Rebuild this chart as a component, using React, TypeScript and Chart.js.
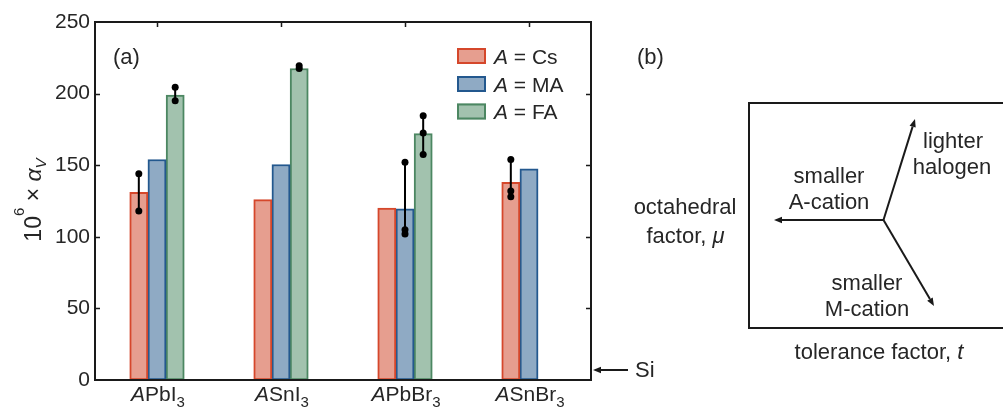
import React, { useEffect, useRef } from 'react';
import { Chart, registerables } from 'chart.js';

Chart.register(...registerables);

// ---------------- data ----------------
const categories = ['APbI3', 'ASnI3', 'APbBr3', 'ASnBr3'];
const categoryBody = ['PbI', 'SnI', 'PbBr', 'SnBr'];
const categorySub = ['3', '3', '3', '3'];

const seriesNames = ['Cs', 'MA', 'FA'];
const csValues = [131, 126, 120, 138];
const maValues = [154, 150.5, 119.5, 147.5];
const faValues: (number | null)[] = [199, 217.5, 172, null];

// individual measurements shown as black dots joined by a line
const csPoints = [[144, 118], [], [], [154, 132, 128]];
const maPoints = [[], [], [152, 105, 102], []];
const faPoints = [[204.5, 195], [219.5, 217.5], [184.5, 172.5, 157.5], []];

const yMin = 0;
const yMax = 250;
const yStep = 50;
const siValue = 7;

// ---------------- styles ----------------
const FONT = '"Liberation Sans", Arial, Helvetica, sans-serif';
const TEXT = '#262626';
const AXIS = '#1a1a1a';
const fills = ['#e69e8f', '#8faac4', '#a2c2ae'];
const borders = ['#d5472b', '#23588e', '#4c8762'];
const GROUP_FRAC = 0.44; // fraction of a category occupied by a group of 3 bars
const SLOT = GROUP_FRAC / 3;

type Part = { t: string; it?: boolean; sub?: boolean; sup?: boolean; size?: number };

function partFont(p: Part, size: number) {
  const s = p.size ?? (p.sub || p.sup ? Math.round(size * 0.68) : size);
  return `${p.it ? 'italic ' : ''}${s}px ${FONT}`;
}

function richWidth(ctx: CanvasRenderingContext2D, parts: Part[], size: number) {
  let w = 0;
  for (const p of parts) {
    ctx.font = partFont(p, size);
    w += ctx.measureText(p.t).width;
  }
  return w;
}

function drawRich(
  ctx: CanvasRenderingContext2D,
  parts: Part[],
  x: number,
  baseline: number,
  size: number,
  align: 'left' | 'center',
  subDrop = 0.3,
  supRise = 0.45
) {
  ctx.textBaseline = 'alphabetic';
  ctx.textAlign = 'left';
  const w = richWidth(ctx, parts, size);
  let cx = align === 'center' ? x - w / 2 : x;
  for (const p of parts) {
    ctx.font = partFont(p, size);
    const dy = p.sub ? size * subDrop : p.sup ? -size * supRise : 0;
    ctx.fillText(p.t, cx, baseline + dy);
    cx += ctx.measureText(p.t).width;
  }
}

function arrow(ctx: CanvasRenderingContext2D, x0: number, y0: number, x1: number, y1: number) {
  const ang = Math.atan2(y1 - y0, x1 - x0);
  const len = 8;
  const hw = 3.2;
  const bx = x1 - len * Math.cos(ang);
  const by = y1 - len * Math.sin(ang);
  ctx.beginPath();
  ctx.moveTo(x0, y0);
  ctx.lineTo(bx, by);
  ctx.stroke();
  ctx.beginPath();
  ctx.moveTo(x1, y1);
  ctx.lineTo(bx + hw * Math.sin(ang), by - hw * Math.cos(ang));
  ctx.lineTo(bx - hw * Math.sin(ang), by + hw * Math.cos(ang));
  ctx.closePath();
  ctx.fill();
}

const decorPlugin = {
  id: 'decor',
  beforeDatasetsDraw(chart: any) {
    const ctx: CanvasRenderingContext2D = chart.ctx;
    const { left, right, top, bottom } = chart.chartArea;
    const ys = chart.scales.y;
    const xs = chart.scales.x;
    ctx.save();
    ctx.strokeStyle = AXIS;
    ctx.lineWidth = 1.5;
    const tl = 5;
    ys.ticks.forEach((t: any) => {
      if (t.value <= yMin || t.value >= yMax) return;
      const py = Math.round(ys.getPixelForValue(t.value)) + 0.5;
      ctx.beginPath();
      ctx.moveTo(left, py);
      ctx.lineTo(left + tl, py);
      ctx.moveTo(right, py);
      ctx.lineTo(right - tl, py);
      ctx.stroke();
    });
    categories.forEach((_, i) => {
      const px = Math.round(xs.getPixelForValue(i)) + 0.5;
      ctx.beginPath();
      ctx.moveTo(px, top);
      ctx.lineTo(px, top + tl);
      ctx.moveTo(px, bottom);
      ctx.lineTo(px, bottom - tl);
      ctx.stroke();
    });
    ctx.restore();
  },
  afterDatasetsDraw(chart: any) {
    const ctx: CanvasRenderingContext2D = chart.ctx;
    const { left, right, top, bottom } = chart.chartArea;
    const ys = chart.scales.y;
    const xs = chart.scales.x;
    ctx.save();

    // axes box
    ctx.strokeStyle = AXIS;
    ctx.lineWidth = 2;
    ctx.strokeRect(left, top, right - left, bottom - top);

    ctx.fillStyle = TEXT;
    // category labels
    categories.forEach((_, i) => {
      const px = xs.getPixelForValue(i);
      drawRich(
        ctx,
        [{ t: 'A', it: true }, { t: categoryBody[i] }, { t: categorySub[i], sub: true, size: 15 }],
        px + 1,
        401,
        21,
        'center',
        0.3
      );
    });

    // y title
    ctx.save();
    ctx.translate(41, (top + bottom) / 2 - 1);
    ctx.rotate(-Math.PI / 2);
    drawRich(
      ctx,
      [
        { t: '10' },
        { t: '6', sup: true, size: 15 },
        { t: ' × ' },
        { t: 'α', it: true },
        { t: 'V', it: true, sub: true, size: 15 },
      ],
      0,
      0,
      23,
      'center',
      0.2,
      0.72
    );
    ctx.restore();

    // panel label (a)
    ctx.font = `22px ${FONT}`;
    ctx.textBaseline = 'middle';
    ctx.textAlign = 'left';
    ctx.fillText('(a)', 113, 58);

    // legend
    const legendY = [56, 84, 111.5];
    seriesNames.forEach((name, k) => {
      const cy = legendY[k];
      ctx.fillStyle = fills[k];
      ctx.fillRect(457, cy - 8, 29, 16);
      ctx.strokeStyle = borders[k];
      ctx.lineWidth = 2;
      ctx.strokeRect(458, cy - 7, 27, 14);
      ctx.fillStyle = TEXT;
      drawRich(ctx, [{ t: 'A', it: true }, { t: ' = ' + name }], 494, cy + 7.5, 21, 'left');
    });

    // Si marker
    const sy = ys.getPixelForValue(siValue);
    ctx.strokeStyle = AXIS;
    ctx.fillStyle = AXIS;
    ctx.lineWidth = 2;
    arrow(ctx, 628, sy, 593, sy);
    ctx.fillStyle = TEXT;
    ctx.font = `22px ${FONT}`;
    ctx.textBaseline = 'middle';
    ctx.fillText('Si', 635, sy + 1);

    // ---------------- panel (b) ----------------
    ctx.fillText('(b)', 637, 58);
    ctx.strokeStyle = AXIS;
    ctx.lineWidth = 2;
    ctx.strokeRect(749, 103, 256, 225);

    ctx.fillStyle = AXIS;
    const cx = 883.5;
    const cy = 220;
    arrow(ctx, cx, cy, 774, cy);
    arrow(ctx, cx, cy, 915, 119);
    arrow(ctx, cx, cy, 934, 306);

    ctx.fillStyle = TEXT;
    ctx.textAlign = 'center';
    ctx.textBaseline = 'middle';
    ctx.font = `22px ${FONT}`;
    ctx.fillText('lighter', 953, 142);
    ctx.fillText('halogen', 952, 168);
    ctx.fillText('smaller', 829, 177);
    ctx.fillText('A-cation', 829, 203);
    ctx.fillText('octahedral', 685, 208);
    ctx.fillText('smaller', 867, 284);
    ctx.fillText('M-cation', 867, 310);
    drawRich(ctx, [{ t: 'factor, ' }, { t: 'μ', it: true }], 685.5, 243, 22, 'center');
    drawRich(ctx, [{ t: 'tolerance factor, ' }, { t: 't', it: true }], 879, 359, 22, 'center');

    ctx.restore();
  },
};

function errorDatasets(points: number[][], k: number) {
  const off = (k - 1) * SLOT;
  return points
    .map((vals, i) => ({ vals, i }))
    .filter((d) => d.vals.length > 0)
    .map((d) => ({
      type: 'line' as const,
      xAxisID: 'x',
      yAxisID: 'y',
      data: d.vals.map((v) => ({ x: d.i + off, y: v })),
      borderColor: '#000',
      borderWidth: 2,
      pointRadius: 3.5,
      pointHoverRadius: 3.5,
      pointBackgroundColor: '#000',
      pointBorderColor: '#000',
      pointBorderWidth: 0,
      fill: false,
      tension: 0,
      order: 0,
      clip: false as any,
    }));
}

export default function App() {
  const ref = useRef<HTMLCanvasElement>(null);

  useEffect(() => {
    document.body.style.margin = '0';
    if (!ref.current) return;
    const barSeries = [csValues, maValues, faValues];
    const bars = barSeries.map((vals, k) => ({
      type: 'bar' as const,
      label: 'A = ' + seriesNames[k],
      data: vals
        .map((v, i) => (v === null ? null : { x: i + (k - 1) * SLOT, y: v }))
        .filter((p) => p !== null),
      backgroundColor: fills[k],
      borderColor: borders[k],
      borderWidth: 2,
      borderSkipped: false as any,
      grouped: false,
      barPercentage: 1,
      categoryPercentage: 1,
      xAxisID: 'x',
      yAxisID: 'y',
      order: 1,
    }));
    const errs = [
      ...errorDatasets(csPoints, 0),
      ...errorDatasets(maPoints, 1),
      ...errorDatasets(faPoints, 2),
    ];

    const chart = new Chart(ref.current, {
      type: 'bar',
      data: { datasets: [...bars, ...errs] as any },
      options: {
        responsive: false,
        animation: false,
        devicePixelRatio: 1,
        events: [],
        layout: { padding: { left: 0, top: 22, right: 412, bottom: 0 } },
        plugins: { legend: { display: false }, tooltip: { enabled: false } },
        scales: {
          x: {
            type: 'linear',
            min: -0.5,
            max: categories.length - 0.5,
            offset: false,
            grid: { display: false, drawTicks: false },
            border: { display: false },
            ticks: { display: false, stepSize: 1 },
            afterFit: (s: any) => {
              s.height = 29;
            },
          },
          y: {
            min: yMin,
            max: yMax,
            ticks: {
              stepSize: yStep,
              color: TEXT,
              padding: 5,
              font: { size: 21, family: FONT },
            },
            grid: { display: false, drawTicks: false },
            border: { display: false },
            afterFit: (s: any) => {
              s.width = 95;
            },
          },
        },
      } as any,
      plugins: [decorPlugin],
    });
    return () => chart.destroy();
  }, []);

  return (
    <div style={{ position: 'fixed', left: 0, top: 0, width: 1003, height: 409, background: '#fff' }}>
      <canvas ref={ref} width={1003} height={409} style={{ display: 'block' }} />
    </div>
  );
}
